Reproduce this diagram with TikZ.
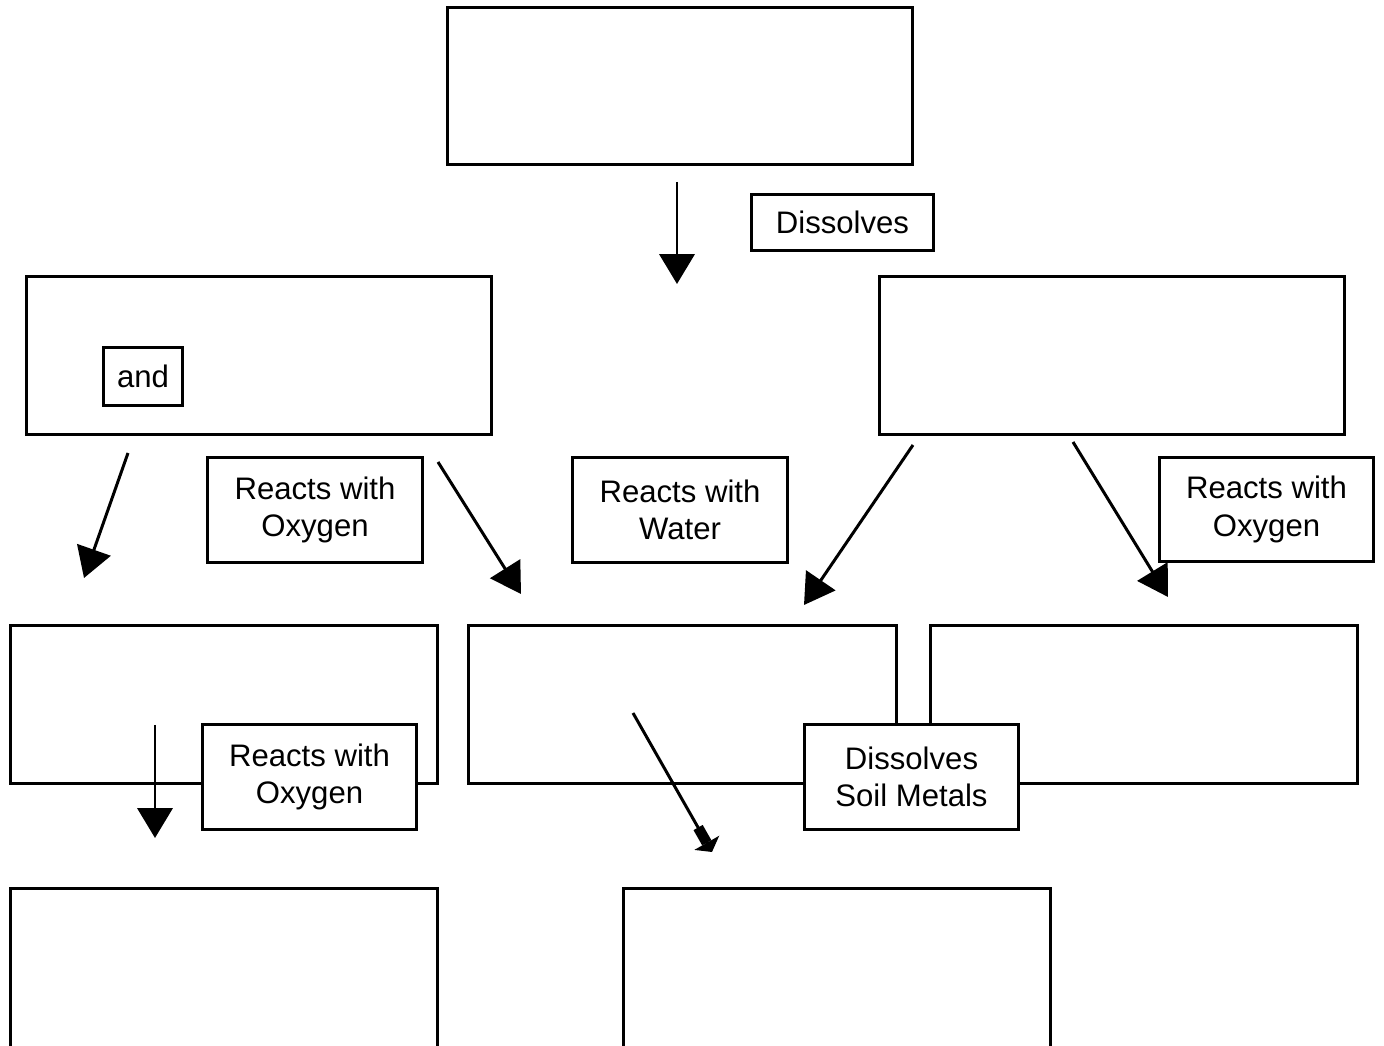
\documentclass[tikz,border=0pt]{standalone}
\usepackage{fontspec}
\setmainfont{Liberation Sans}
\usetikzlibrary{arrows.meta}
\begin{document}
\begin{tikzpicture}[x=0.01cm, y=-0.01cm, line width=0.85pt,
        >={Triangle[length=8.5pt,width=10pt]},
        widebox/.style={draw, inner sep=0pt, minimum width=4.64cm, minimum height=1.57cm},
        narrowbox/.style={draw, inner sep=0pt, minimum width=4.27cm, minimum height=1.57cm},
        relbox/.style={draw, fill=white, inner sep=0pt, minimum width=2.14cm, minimum height=1.04cm,
            align=center, font=\fontsize{8.85}{10.6}\selectfont}]
                \useasboundingbox (0,0) rectangle (1384,1046);
                \clip (0,0) rectangle (1384,1046);

                % boxes
                \node[widebox] (top) at (680,86) {};
                \node[widebox] (left) at (259,355.5) {};
                \node[widebox] (right) at (1112,355.5) {};
                \node[narrowbox] (rowL) at (224,704.5) {};
                \node[narrowbox] (rowM) at (682.5,704.5) {};
                \node[narrowbox] (rowR) at (1144,704.5) {};
                \node[narrowbox, minimum height=1.80cm] (botL) at (224,979) {};
                \node[narrowbox, minimum height=1.80cm] (botR) at (837,979) {};

                % relation labels
                \node[relbox, minimum width=1.81cm, minimum height=0.55cm] (dissolves) at (842.5,222.5) {Dissolves};
                \node[relbox, minimum width=0.78cm, minimum height=0.57cm] (and) at (143,376.5) {and};
                \node[relbox] (oxyA) at (315,510) {Reacts with\\Oxygen};
                \node[relbox] (water) at (680,510) {Reacts with\\Water};
                \node[relbox] (oxyB) at (1266.5,509.5) {Reacts with\\Oxygen};

                % arrow ends
                \coordinate (a1) at (677,182);
                \coordinate (b1) at (677,284);
                \coordinate (a2) at (128,453);
                \coordinate (b2) at (84,578);
                \coordinate (a3) at (438,462);
                \coordinate (b3) at (521,594);
                \coordinate (a4) at (913,445);
                \coordinate (b4) at (804,605);
                \coordinate (a5) at (1073,442);
                \coordinate (b5) at (1168,597);
                \coordinate (a6) at (155,725);
                \coordinate (b6) at (155,838);
                \coordinate (a7) at (633,713);
                \coordinate (b7) at (712,852);

                \draw[->] (a1) to (b1);
                \draw[->] (a2) to (b2);
                \draw[->] (a3) to (b3);
                \draw[->] (a4) to (b4);
                \draw[->] (a5) to (b5);
                \draw[->] (a6) to (b6);
                \draw[-{Rectangle[length=5pt,width=3pt]Triangle[length=3pt,width=8pt]}] (a7) to (b7);

                \node[relbox] (oxyC) at (309.5,777) {Reacts with\\Oxygen};
                \node[relbox] (soil) at (911.5,777) {Dissolves\\Soil Metals};
            \end{tikzpicture}
\end{document}
